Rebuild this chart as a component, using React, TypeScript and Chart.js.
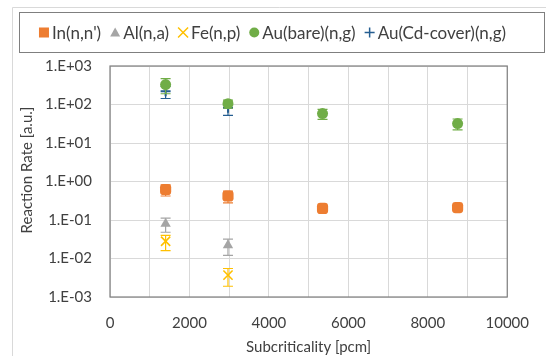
import React, { useEffect, useRef } from "react";
import { Chart, registerables } from "chart.js";

Chart.register(...registerables);

// ---- data ----
const subcritAll = [1400, 2970, 5350, 8750];
const subcritLow = [1400, 2970];
const inRate = [0.62, 0.42, 0.2, 0.21];
const inErr = [0.2, 0.14, 0.03, 0.03];
const alRate = [0.08, 0.022];
const alErr = [0.032, 0.01];
const feRate = [0.028, 0.0037];
const feErr = [0.012, 0.0018];
const auBareRate = [330, 105, 58, 32];
const auBareErr = [140, 25, 17, 10];
const auCdRate = [220, 82];
const auCdErr = [77, 30];
const seriesNames = ["In(n,n')", "Al(n,a)", "Fe(n,p)", "Au(bare)(n,g)", "Au(Cd-cover)(n,g)"];
const yDecades = [1e-3, 1e-2, 1e-1, 1e0, 1e1, 1e2, 1e3];
const xTickStep = 1000;

const colors = ["#ED7D31", "#A5A5A5", "#FFC000", "#70AD47", "#255E91"];
const FONT = "Lato, 'Open Sans', sans-serif";
const TEXT = "#404040";

const pts = (xs: number[], ys: number[]) => xs.map((x, i) => ({ x, y: ys[i] }));

const errorBarPlugin = {
  id: "errorBars",
  beforeDatasetDraw(chart: any, args: any) {
    const ds = chart.data.datasets[args.index];
    const errs: number[] | undefined = ds.errors;
    if (!errs) return;
    const ctx = chart.ctx;
    const xs = chart.scales.x;
    const ys = chart.scales.y;
    const ca = chart.chartArea;
    ctx.save();
    ctx.beginPath();
    ctx.rect(ca.left, ca.top, ca.right - ca.left, ca.bottom - ca.top);
    ctx.clip();
    ctx.strokeStyle = ds.borderColor;
    ctx.lineWidth = 1.2;
    ds.data.forEach((p: any, i: number) => {
      const px = xs.getPixelForValue(p.x);
      const lo = Math.max(p.y - errs[i], 1e-6);
      const top = ys.getPixelForValue(p.y + errs[i]);
      const bot = ys.getPixelForValue(lo);
      const cw = 5;
      ctx.beginPath();
      ctx.moveTo(px, top);
      ctx.lineTo(px, bot);
      ctx.moveTo(px - cw, top);
      ctx.lineTo(px + cw, top);
      ctx.moveTo(px - cw, bot);
      ctx.lineTo(px + cw, bot);
      ctx.stroke();
    });
    ctx.restore();
  },
};

const decorPlugin = {
  id: "decor",
  beforeDraw(chart: any) {
    const ctx = chart.ctx;
    ctx.save();
    ctx.fillStyle = "#ffffff";
    ctx.fillRect(0, 0, chart.width, chart.height);
    // outer frame
    ctx.strokeStyle = "#d9d9d9";
    ctx.lineWidth = 1;
    ctx.beginPath();
    ctx.moveTo(12.5, chart.height + 5);
    ctx.lineTo(12.5, 7.5);
    ctx.lineTo(chart.width + 5, 7.5);
    ctx.stroke();
    ctx.restore();
  },
  afterDraw(chart: any) {
    const ctx = chart.ctx;
    const ca = chart.chartArea;
    ctx.save();
    // plot border
    ctx.strokeStyle = "#7f7f7f";
    ctx.lineWidth = 1.2;
    ctx.strokeRect(ca.left, ca.top, ca.right - ca.left, ca.bottom - ca.top);

    // legend box
    ctx.strokeStyle = "#7f7f7f";
    ctx.lineWidth = 1;
    ctx.strokeRect(19.5, 12.5, 525, 40);

    ctx.font = `17px ${FONT}`;
    ctx.textBaseline = "middle";
    ctx.textAlign = "left";
    const widths = seriesNames.map((n) => ctx.measureText(n).width);
    const gap = 9;
    const total = widths.reduce((a, w) => a + 13 + w, 0) + gap * (seriesNames.length - 1);
    let x = 29 + Math.max(0, (487 - total) / 2);
    const cy = 32.5;
    seriesNames.forEach((name, i) => {
      const c = colors[i];
      const mx = x + 5;
      ctx.fillStyle = c;
      ctx.strokeStyle = c;
      if (i === 0) {
        ctx.fillRect(mx - 5, cy - 5, 10, 10);
      } else if (i === 1) {
        ctx.beginPath();
        ctx.moveTo(mx, cy - 5);
        ctx.lineTo(mx + 5, cy + 4);
        ctx.lineTo(mx - 5, cy + 4);
        ctx.closePath();
        ctx.fill();
      } else if (i === 2) {
        ctx.lineWidth = 1.5;
        ctx.beginPath();
        ctx.moveTo(mx - 5, cy - 5);
        ctx.lineTo(mx + 5, cy + 5);
        ctx.moveTo(mx + 5, cy - 5);
        ctx.lineTo(mx - 5, cy + 5);
        ctx.stroke();
      } else if (i === 3) {
        ctx.beginPath();
        ctx.arc(mx, cy, 5, 0, Math.PI * 2);
        ctx.fill();
      } else {
        ctx.lineWidth = 1.5;
        ctx.beginPath();
        ctx.moveTo(mx - 5, cy);
        ctx.lineTo(mx + 5, cy);
        ctx.moveTo(mx, cy - 5);
        ctx.lineTo(mx, cy + 5);
        ctx.stroke();
      }
      ctx.fillStyle = TEXT;
      ctx.fillText(name, x + 13, cy + 1);
      x += 13 + widths[i] + gap;
    });

    // axis titles
    ctx.font = `15px ${FONT}`;
    ctx.fillStyle = TEXT;
    ctx.textAlign = "center";
    ctx.fillText("Subcriticality [pcm]", (ca.left + ca.right) / 2, 347);
    ctx.translate(27, 170);
    ctx.rotate(-Math.PI / 2);
    ctx.fillText("Reaction Rate [a.u.]", 0, 0);
    ctx.restore();
  },
};

export default function App() {
  const ref = useRef<HTMLCanvasElement | null>(null);
  useEffect(() => {
    if (!ref.current) return;
    const mk = (label: string, xs: number[], ys: number[], errs: number[], i: number, style: any, radius: number, bw: number) => ({
      label,
      data: pts(xs, ys),
      errors: errs,
      backgroundColor: colors[i],
      borderColor: colors[i],
      pointStyle: style,
      pointRadius: radius,
      pointHoverRadius: radius,
      pointBorderWidth: bw,
      showLine: false,
    });
    const chart = new Chart(ref.current, {
      type: "scatter",
      data: {
        datasets: [
          mk(seriesNames[0], subcritAll, inRate, inErr, 0, "rectRounded", 6.5, 0),
          mk(seriesNames[1], subcritLow, alRate, alErr, 1, "triangle", 6, 0),
          mk(seriesNames[2], subcritLow, feRate, feErr, 2, "crossRot", 6.5, 1.6),
          mk(seriesNames[3], subcritAll, auBareRate, auBareErr, 3, "circle", 5.5, 0),
          mk(seriesNames[4], subcritLow, auCdRate, auCdErr, 4, "cross", 5, 2),
        ] as any,
      },
      options: {
        animation: false,
        responsive: false,
        layout: { padding: { top: 66, right: 29, left: 0, bottom: 0 } },
        plugins: { legend: { display: false }, tooltip: { enabled: false } },
        scales: {
          x: {
            type: "linear",
            min: 0,
            max: 10000,
            afterFit: (s: any) => {
              s.height = 59;
            },
            ticks: {
              stepSize: xTickStep,
              autoSkip: false,
              maxRotation: 0,
              padding: 17,
              color: TEXT,
              font: { family: FONT, size: 15 },
              callback: (v: any) => (Number(v) % 2000 === 0 ? String(v) : ""),
            },
            grid: { color: "#d9d9d9", drawTicks: false },
            border: { display: false },
          },
          y: {
            type: "logarithmic",
            min: 1e-3,
            max: 1e3,
            afterFit: (s: any) => {
              s.width = 110;
            },
            afterBuildTicks: (s: any) => {
              s.ticks = yDecades.map((v) => ({ value: v }));
            },
            ticks: {
              padding: 18,
              color: TEXT,
              font: { family: FONT, size: 15 },
              callback: (v: any) => {
                const e = Math.round(Math.log10(Number(v)));
                return "1.E" + (e < 0 ? "-" : "+") + String(Math.abs(e)).padStart(2, "0");
              },
            },
            grid: { color: "#d9d9d9", drawTicks: false },
            border: { display: false },
          },
        },
      },
      plugins: [decorPlugin, errorBarPlugin],
    } as any);
    return () => chart.destroy();
  }, []);
  return (
    <div style={{ position: "absolute", left: 0, top: 0, width: 546, height: 356 }}>
      <canvas ref={ref} width={546} height={356} style={{ width: 546, height: 356 }} />
    </div>
  );
}
